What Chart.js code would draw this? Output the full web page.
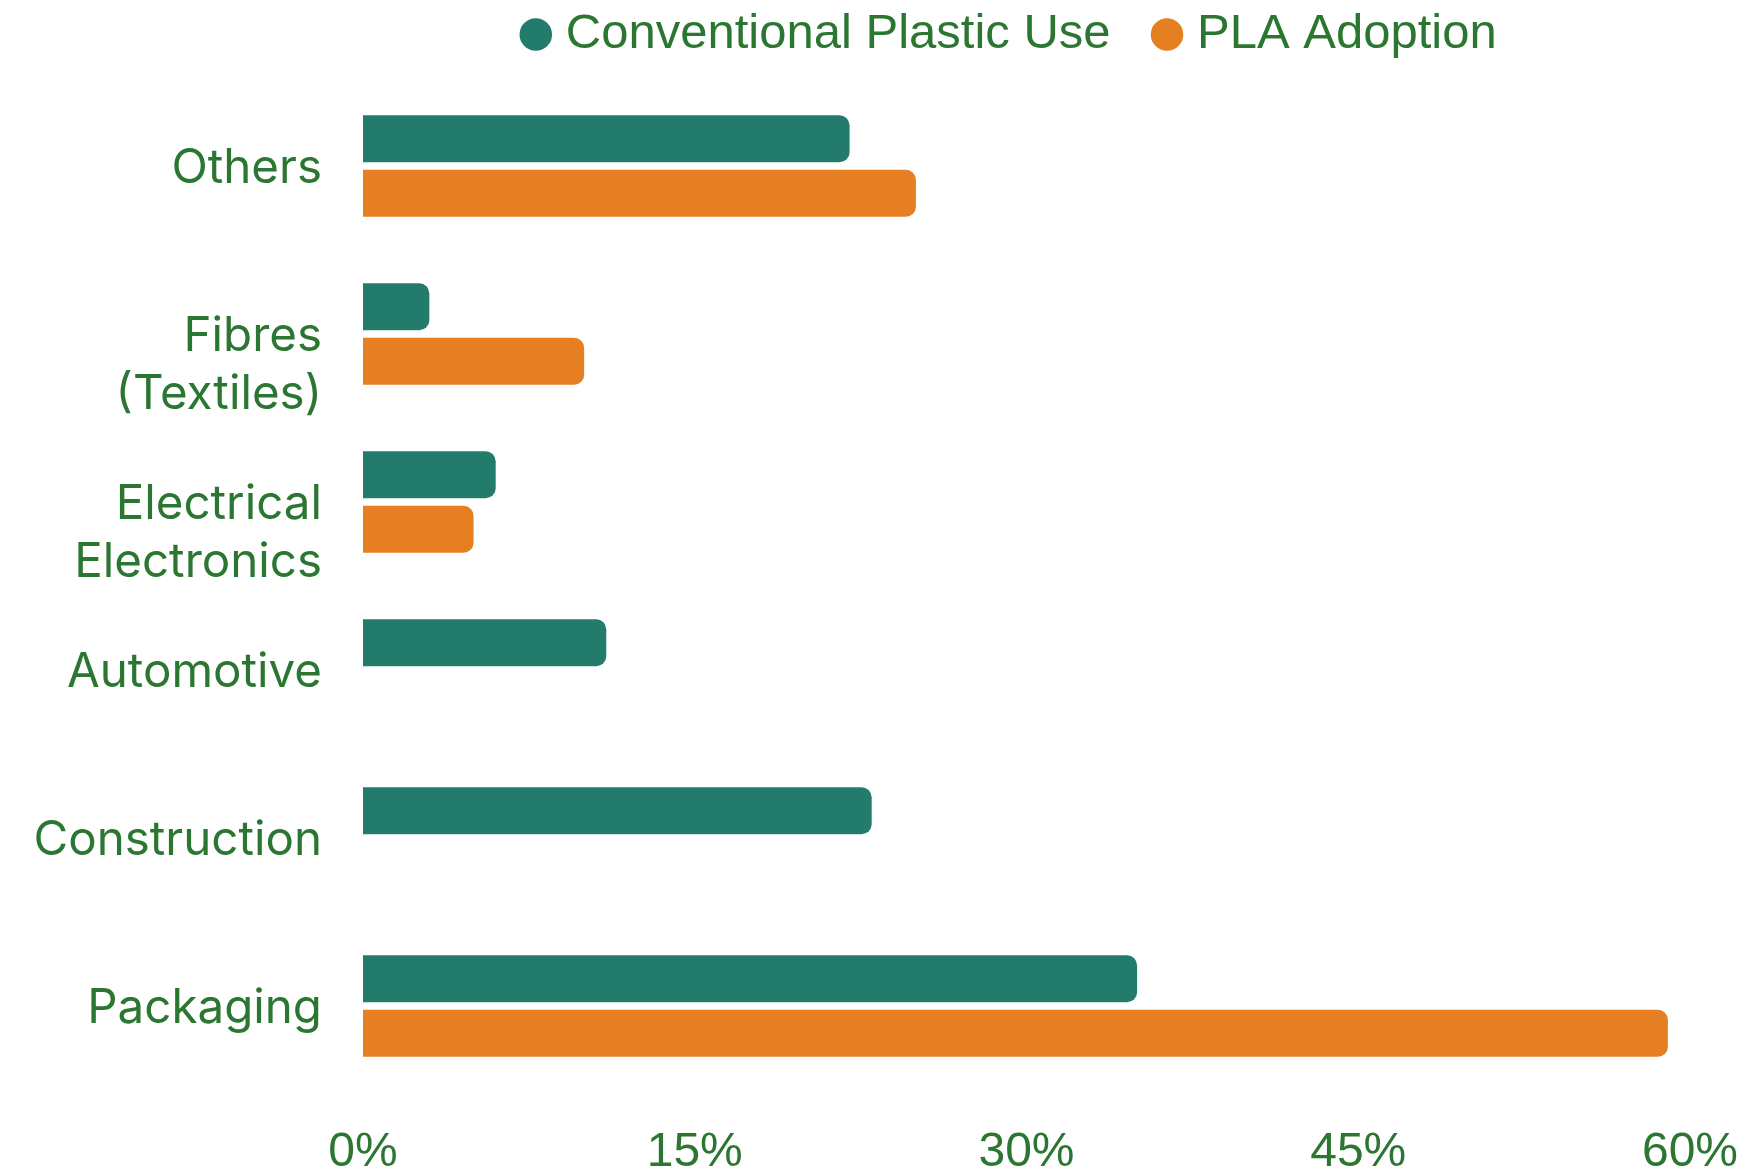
<!DOCTYPE html>
<html>
<head>
<meta charset="utf-8">
<script src="https://cdn.jsdelivr.net/npm/chart.js@4.4.1/dist/chart.umd.min.js"></script>
<style>
  html, body { margin: 0; padding: 0; background: #ffffff; }
  #wrap { width: 1748px; height: 1174px; }
</style>
</head>
<body>
<div id="wrap"><canvas id="chart" width="1748" height="1174"></canvas></div>
<script>
// Sector shares of conventional plastic use vs. PLA adoption (%)
const categories = [
  ['Others'],
  ['Fibres', '(Textiles)'],
  ['Electrical', 'Electronics'],
  ['Automotive'],
  ['Construction'],
  ['Packaging']
];
const conventionalUse = [22, 3, 6, 11, 23, 35];
const plaAdoption = [25, 10, 5, 0, 0, 59];
const xTickValues = [0, 15, 30, 45, 60];
const seriesNames = ['Conventional Plastic Use', 'PLA Adoption'];

const GREEN = '#227b6b';
const ORANGE = '#e67f22';
const TEXT = '#2b7631';

// Category labels: first line sits on the category centre, extra lines hang below it
const categoryLabels = {
  id: 'categoryLabels',
  afterInit(chart) {
    // leave a little more room between the legend and the plot
    const legend = chart.legend;
    if (legend) {
      const fit = legend.fit.bind(legend);
      legend.fit = function () { fit(); this.height += 13; };
    }
  },
  afterLayout(chart) {
    // nudge the legend row slightly left of the plot centre
    const legend = chart.legend;
    if (legend) { legend.left -= 13; legend.right -= 13; }
  },
  afterDraw(chart) {
    const ctx = chart.ctx;
    const y = chart.scales.y;
    ctx.save();
    ctx.font = '400 47.5px Inter';
    ctx.fillStyle = TEXT;
    ctx.textAlign = 'right';
    ctx.textBaseline = 'middle';
    categories.forEach((lines, i) => {
      const cy = y.getPixelForTick(i) + 3;
      lines.forEach((line, j) => {
        ctx.fillText(line, chart.chartArea.left - 41, cy + j * 58);
      });
    });
    ctx.restore();
  }
};

new Chart(document.getElementById('chart'), {
  type: 'bar',
  data: {
    labels: categories,
    datasets: [
      {
        label: seriesNames[0],
        data: conventionalUse,
        backgroundColor: GREEN,
        borderRadius: 10,
        borderSkipped: 'start',
        barPercentage: 0.86,
        categoryPercentage: 0.65
      },
      {
        label: seriesNames[1],
        data: plaAdoption,
        backgroundColor: ORANGE,
        borderRadius: 10,
        borderSkipped: 'start',
        barPercentage: 0.86,
        categoryPercentage: 0.65
      }
    ]
  },
  options: {
    indexAxis: 'y',
    responsive: false,
    animation: false,
    layout: { padding: { top: -41, right: 58, bottom: 0, left: 0 } },
    plugins: {
      tooltip: { enabled: false },
      legend: {
        position: 'top',
        fullSize: false,
        labels: {
          usePointStyle: true,
          pointStyle: 'circle',
          boxWidth: 11,
          boxHeight: 23,
          padding: 51,
          color: TEXT,
          font: { family: 'Liberation Sans', size: 49 }
        }
      }
    },
    scales: {
      x: {
        min: 0,
        max: 60,
        grid: { display: false, drawTicks: false },
        border: { display: false },
        afterBuildTicks(scale) {
          scale.ticks = xTickValues.map(v => ({ value: v }));
        },
        afterFit(scale) {
          scale.height = 84;
          scale.paddingLeft = 0;
          scale.paddingRight = 0;
        },
        ticks: {
          padding: 34,
          color: TEXT,
          font: { family: 'Liberation Sans', size: 48 },
          callback: v => v + '%'
        }
      },
      y: {
        grid: { display: false, drawTicks: false },
        border: { display: false },
        ticks: { display: false },
        afterFit(scale) { scale.width = 363; }
      }
    }
  },
  plugins: [categoryLabels]
});
</script>
</body>
</html>
